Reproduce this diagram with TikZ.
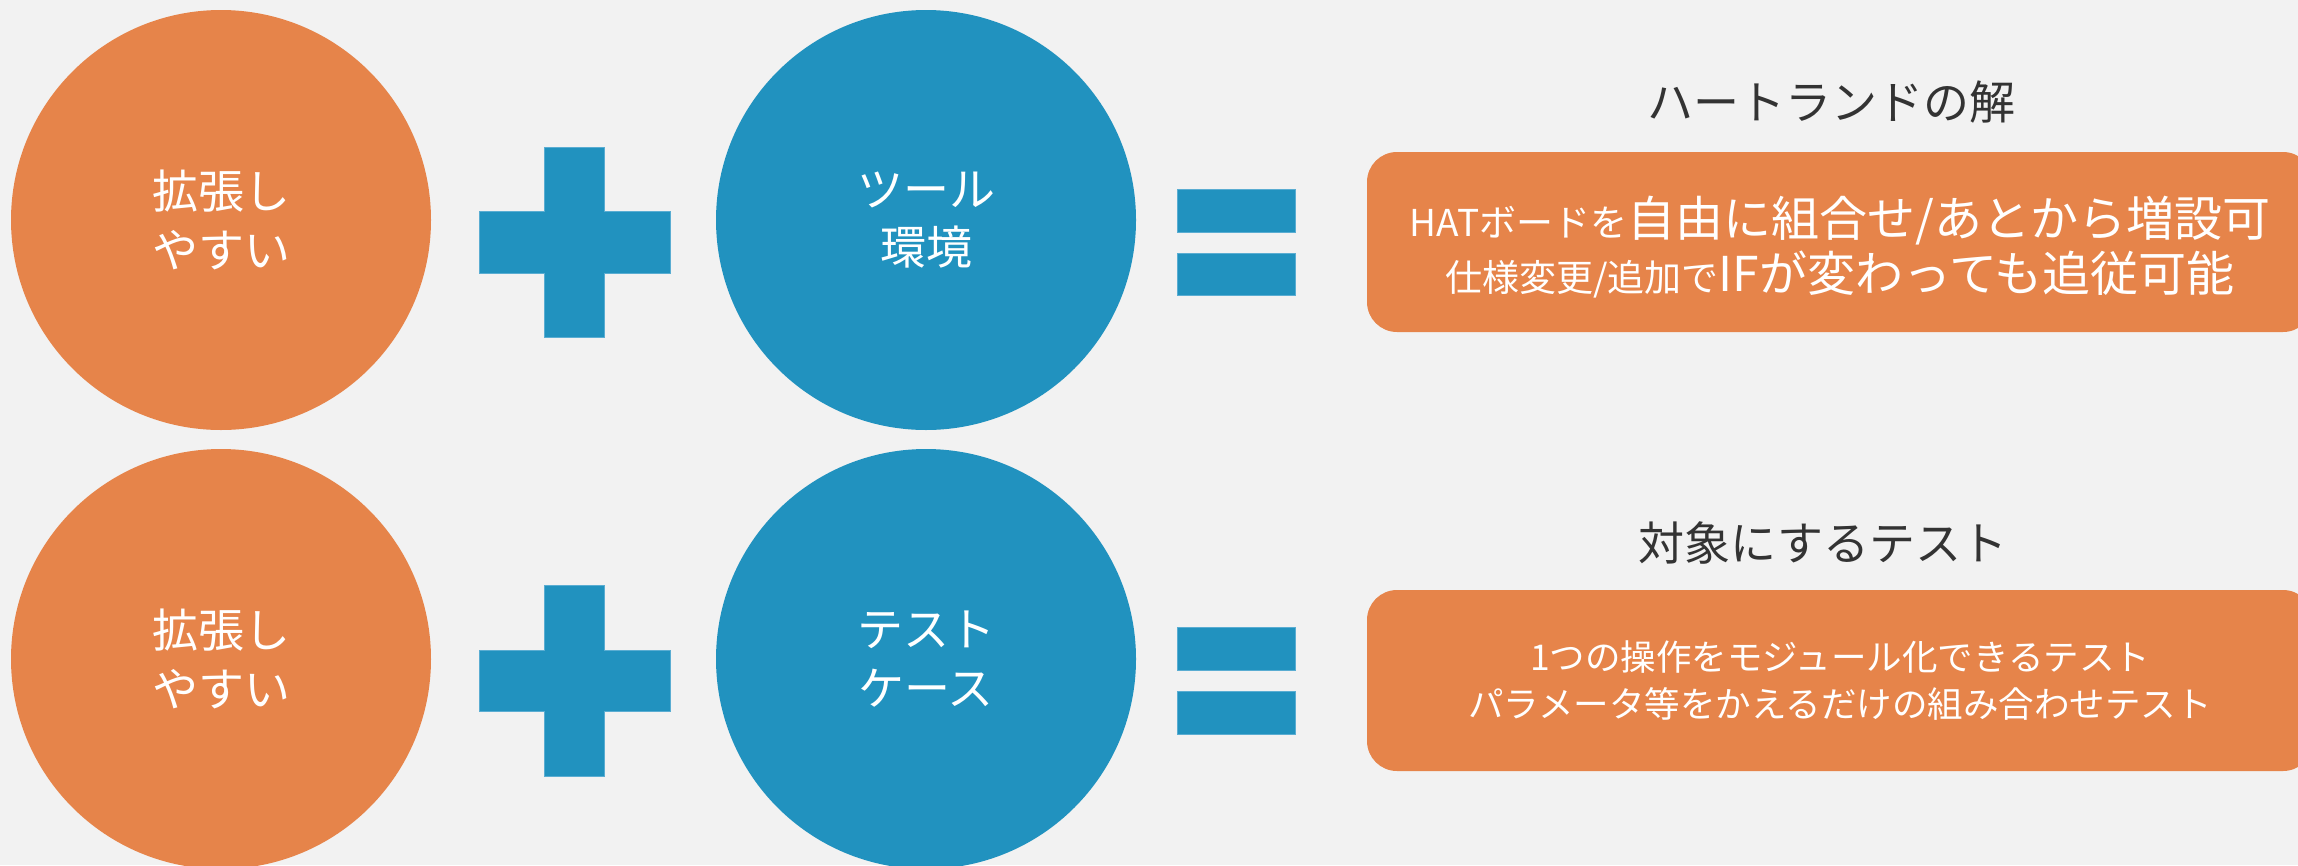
\documentclass[tikz,border=0pt]{standalone}
\usepackage{fontspec}
\setmainfont{Noto Sans CJK JP}
\definecolor{bg}{HTML}{F2F2F2}
\definecolor{org}{HTML}{E6844A}
\definecolor{blu}{HTML}{2192BF}
\definecolor{bluline}{HTML}{5AADD2}
\definecolor{ttl}{HTML}{333333}
\tikzset{
  disc/.style={circle, inner sep=0pt, minimum size=420pt, text=white, align=center,
    font=\fontsize{46}{58.5}\selectfont},
  odisc/.style={disc, fill=org},
  bdisc/.style={disc, fill=blu},
  bar/.style={fill=blu, draw=bluline, line width=0.8pt},
  titletext/.style={text=ttl, inner sep=0pt, font=\fontsize{46}{55}\selectfont},
  resultbox/.style={fill=org, rounded corners=30pt, minimum width=946pt, minimum height=180pt,
    text=white, align=center, inner sep=0pt}
}
\begin{document}
\begin{tikzpicture}[x=1pt,y=-1pt]
\fill[bg] (0,0) rectangle (2298,865);
\useasboundingbox (0,0) rectangle (2298,865);
\clip (0,0) rectangle (2298,865);

% row 1
\node[odisc] (o1) at (221,220) {拡張し\\やすい};
\node[bdisc] (b1) at (926,220) {ツール\\環境};
\path[bar] (544,147) -- (604,147) -- (604,211) -- (670,211) -- (670,273) -- (604,273)
  -- (604,337) -- (544,337) -- (544,273) -- (479,273) -- (479,211) -- (544,211) -- cycle;
\path[bar] (1177,189) rectangle (1295,232);
\path[bar] (1177,253) rectangle (1295,295);
\node[titletext] (t1) at (1831,102) {ハートランドの解};
\node[resultbox] (r1) at (1840,242) {};
\node[text=white, align=center, inner sep=0pt, font=\fontsize{48}{55}\selectfont] (r1text) at (1840,247)
  {{\fontsize{37}{55}\selectfont HATボードを}自由に組合せ/あとから増設可\\
   {\fontsize{37}{55}\selectfont 仕様変更/追加で}IFが変わっても追従可能};

% row 2
\node[odisc] (o2) at (221,659) {拡張し\\やすい};
\node[bdisc] (b2) at (926,659) {テスト\\ケース};
\path[bar] (544,585) -- (604,585) -- (604,650) -- (670,650) -- (670,711) -- (604,711)
  -- (604,776) -- (544,776) -- (544,711) -- (479,711) -- (479,650) -- (544,650) -- cycle;
\path[bar] (1177,627) rectangle (1295,670);
\path[bar] (1177,691) rectangle (1295,734);
\node[titletext] (t2) at (1823,543) {対象にするテスト};
\node[resultbox, minimum height=181pt, font=\fontsize{35.5}{47}\selectfont] (r2) at (1840,680.5)
  {1つの操作をモジュール化できるテスト\\パラメータ等をかえるだけの組み合わせテスト};
\end{tikzpicture}
\end{document}
